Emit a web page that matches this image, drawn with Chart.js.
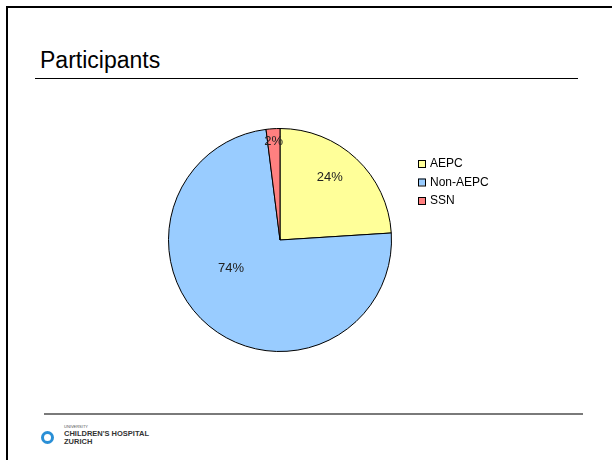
<!DOCTYPE html>
<html>
<head>
<meta charset="utf-8">
<script src="https://cdn.jsdelivr.net/npm/chart.js@4"></script>
<style>
  html, body { margin:0; padding:0; background:#fff; }
  body { width:612px; height:460px; position:relative; overflow:hidden; font-family:"Liberation Sans", Arial, sans-serif; }
  #frameTop { position:absolute; left:6px; top:6px; width:606px; height:2px; background:#000; }
  #frameLeft { position:absolute; left:6px; top:6px; width:2px; height:454px; background:#000; }
  #title { position:absolute; left:40px; top:47px; font-size:23px; color:#000; line-height:26px; }
  #titleLine { position:absolute; left:35px; top:78px; width:543px; height:1px; background:#000; }
  #footLine { position:absolute; left:44px; top:413px; width:539px; height:2px; background:#7a7a7a; }
  #logoIcon { position:absolute; left:41px; top:431px; width:7px; height:7px; border:3px solid #2a8fd6; border-radius:50%; }
  #logoU { position:absolute; left:64px; top:424px; font-size:4px; color:#555; }
  #logoC { position:absolute; left:64px; top:429px; font-size:7.5px; font-weight:bold; color:#333; }
  #logoZ { position:absolute; left:64px; top:437px; font-size:7.5px; font-weight:bold; color:#333; }
  #c { position:absolute; left:0; top:0; }
</style>
</head>
<body>
<div id="frameTop"></div>
<div id="frameLeft"></div>
<div id="title">Participants</div>
<div id="titleLine"></div>
<div id="footLine"></div>
<div id="logoIcon"></div>
<div id="logoU">UNIVERSITY</div>
<div id="logoC">CHILDREN'S HOSPITAL</div>
<div id="logoZ">ZURICH</div>
<canvas id="c" width="612" height="460"></canvas>
<script>
const categories = ["AEPC", "Non-AEPC", "SSN"];
const values = [24, 74, 2];
const valueLabels = ["24%", "74%", "2%"];
const colors = ["#FFFF99", "#99CCFF", "#FF8080"];

const labelPlugin = {
  id: 'sliceLabels',
  afterDatasetsDraw(chart) {
    const ctx = chart.ctx;
    const meta = chart.getDatasetMeta(0);
    // per-slice radial fraction and angle shift (radians) to mimic original placement
    const rf = [0.72, 0.51, 0.89];
    const da = [-0.084, 0.35, 0];
    ctx.save();
    ctx.font = '13px "Liberation Sans", Arial, sans-serif';
    ctx.fillStyle = '#222';
    ctx.textAlign = 'center';
    ctx.textBaseline = 'middle';
    meta.data.forEach((arc, i) => {
      const p = arc.getProps(['x','y','startAngle','endAngle','outerRadius'], true);
      const a = (p.startAngle + p.endAngle) / 2 + da[i];
      const r = p.outerRadius * rf[i];
      ctx.fillText(valueLabels[i], p.x + Math.cos(a) * r, p.y + Math.sin(a) * r);
    });
    ctx.restore();
  }
};

const legendPlugin = {
  id: 'customLegend',
  afterDraw(chart) {
    const ctx = chart.ctx;
    const x0 = 418, y0 = 163.5, step = 18.5, box = 7;
    ctx.save();
    ctx.font = '12px "Liberation Sans", Arial, sans-serif';
    ctx.textAlign = 'left';
    ctx.textBaseline = 'middle';
    categories.forEach((c, i) => {
      const y = y0 + i * step;
      ctx.fillStyle = colors[i];
      ctx.fillRect(x0, y - box/2, box, box);
      ctx.strokeStyle = '#000';
      ctx.lineWidth = 1;
      ctx.strokeRect(x0 + 0.5, y - box/2 + 0.5, box, box);
      ctx.fillStyle = '#000';
      ctx.fillText(c, x0 + 12, y + 0.5);
    });
    ctx.restore();
  }
};

new Chart(document.getElementById('c'), {
  type: 'pie',
  data: {
    labels: categories,
    datasets: [{
      data: values,
      backgroundColor: colors,
      borderColor: '#000',
      borderWidth: 1,
      hoverOffset: 0
    }]
  },
  options: {
    responsive: false,
    animation: false,
    events: [],
    layout: { padding: { left: 168, right: 220, top: 128, bottom: 108 } },
    plugins: {
      legend: { display: false },
      tooltip: { enabled: false }
    }
  },
  plugins: [labelPlugin, legendPlugin]
});
</script>
</body>
</html>
